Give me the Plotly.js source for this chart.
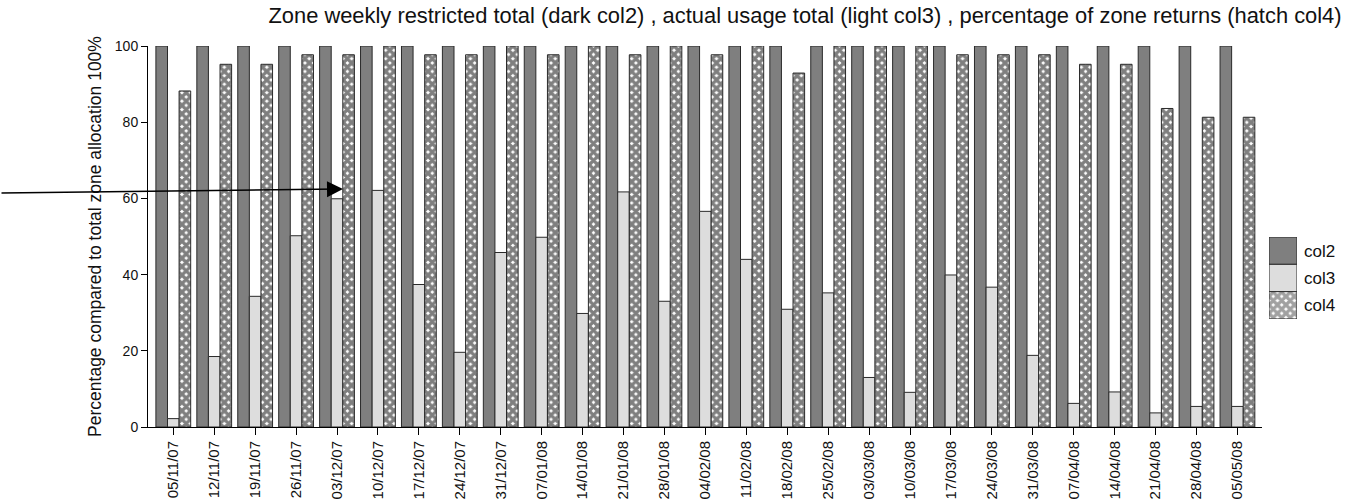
<!DOCTYPE html>
<html>
<head>
<meta charset="utf-8">
<script src="https://cdn.plot.ly/plotly-3.0.1.min.js"></script>
<style>
  html, body { margin: 0; padding: 0; background: #ffffff; }
  #chart { width: 1359px; height: 504px; }
</style>
</head>
<body>
<div id="chart"></div>
<script>
// ---- data ----
const categories = ['05/11/07','12/11/07','19/11/07','26/11/07','03/12/07','10/12/07','17/12/07',
  '24/12/07','31/12/07','07/01/08','14/01/08','21/01/08','28/01/08','04/02/08','11/02/08',
  '18/02/08','25/02/08','03/03/08','10/03/08','17/03/08','24/03/08','31/03/08','07/04/08',
  '14/04/08','21/04/08','28/04/08','05/05/08'];

const col2 = [100,100,100,100,100,100,100,100,100,100,100,100,100,100,
  100,100,100,100,100,100,100,100,100,100,100,100,100];

const col3 = [2.2,18.5,34.3,50.2,59.9,62.1,37.4,19.6,45.8,49.8,29.8,61.7,33.0,56.6,
  44.0,30.9,35.2,13.0,9.1,39.9,36.7,18.8,6.2,9.2,3.7,5.4,5.4];

const col4 = [88.2,95.2,95.2,97.7,97.7,100,97.7,97.7,100,97.7,100,97.7,100,97.7,
  100,92.9,100,100,100,97.7,97.7,97.7,95.2,95.2,83.6,81.3,81.3];

const seriesNames = ['col2', 'col3', 'col4'];
const legendSwatchLength = [1, 1, 1];

const titleText = 'Zone weekly restricted total (dark col2) , actual usage total (light col3) , percentage of zone returns (hatch col4)';
const yTitleText = 'Percentage compared to total zone allocation 100%';

// ---- styles ----
const DARK = '#7f7f7f';
const LIGHT = '#dddddd';
const EDGE = '#2a2a2a';
const FONT = 'Liberation Sans, Arial, sans-serif';
const hatch = { shape: 'x', fgcolor: '#000000', bgcolor: '#ffffff', size: 6, solidity: 0.8, fillmode: 'overlay' };

const traces = [
  { type: 'bar', name: seriesNames[0], x: categories, y: col2,
    marker: { color: DARK, line: { color: EDGE, width: 1 } }, showlegend: false, hoverinfo: 'x+y' },
  { type: 'bar', name: seriesNames[1], x: categories, y: col3,
    marker: { color: LIGHT, line: { color: EDGE, width: 1 } }, showlegend: false, hoverinfo: 'x+y' },
  { type: 'bar', name: seriesNames[2], x: categories, y: col4,
    marker: { color: '#ffffff', pattern: hatch, line: { color: EDGE, width: 1 } }, showlegend: false, hoverinfo: 'x+y' },
  // legend drawn as a small bar chart on its own axes
  { type: 'bar', orientation: 'h', x: legendSwatchLength, y: seriesNames, width: 1,
    xaxis: 'x2', yaxis: 'y2', showlegend: false, hoverinfo: 'skip',
    marker: {
      color: [DARK, LIGHT, '#ffffff'],
      pattern: { shape: ['', '', 'x'], fgcolor: '#000000', bgcolor: '#ffffff', size: 6, solidity: 0.8, fillmode: 'overlay' },
      line: { color: EDGE, width: 1 }
    } }
];

const W = 1359, H = 504;
const L = 148, R = 20, T = 46, B = 77;
const plotW = W - L - R;
const plotH = H - T - B;
const px = v => (v - L) / plotW;           // pixel x -> paper x
const py = v => (H - B - v) / plotH;       // pixel y -> paper y

const layout = {
  width: W, height: H,
  margin: { l: L, r: R, t: T, b: B, pad: 0 },
  paper_bgcolor: '#ffffff', plot_bgcolor: '#ffffff',
  font: { family: FONT, color: '#111111', size: 14 },
  barmode: 'group', bargap: 0.15, bargroupgap: 0,
  showlegend: false,
  title: {
    text: titleText,
    font: { family: FONT, size: 21.9, color: '#111111' },
    xref: 'paper', x: px(805), xanchor: 'center',
    yref: 'container', y: 1 - 15 / H, yanchor: 'middle'
  },
  xaxis: {
    type: 'category',
    domain: [0, px(1262)],
    range: [-0.618, 26.60],
    showline: true, linecolor: '#000000', linewidth: 1,
    ticks: 'outside', ticklen: 7, tickcolor: '#000000', tickwidth: 1,
    tickangle: -90, tickfont: { family: FONT, size: 15, color: '#111111' },
    showgrid: false, zeroline: false, fixedrange: true
  },
  yaxis: {
    range: [0, 100],
    tickvals: [0, 20, 40, 60, 80, 100],
    showline: true, linecolor: '#000000', linewidth: 1,
    ticks: 'outside', ticklen: 6, tickcolor: '#000000', tickwidth: 1,
    tickfont: { family: FONT, size: 14, color: '#111111' },
    showgrid: false, zeroline: false, fixedrange: true,
    title: { text: yTitleText, font: { family: FONT, size: 17.5, color: '#111111' }, standoff: 8 },
    automargin: false
  },
  xaxis2: {
    domain: [px(1269), px(1297)], anchor: 'y2', range: [0, 1],
    visible: false, fixedrange: true
  },
  yaxis2: {
    domain: [py(319), py(237)], anchor: 'x2', side: 'right',
    type: 'category', range: [2.5, -0.5],
    showline: false, ticks: '', showgrid: false, zeroline: false,
    tickfont: { family: FONT, size: 17, color: '#111111' },
    ticklabelstandoff: 6, fixedrange: true
  },
  annotations: [{
    xref: 'paper', yref: 'paper', x: px(343), y: py(189),
    axref: 'pixel', ayref: 'pixel', ax: -345, ay: 4,
    showarrow: true, arrowhead: 2, arrowsize: 2, arrowwidth: 1.6, arrowcolor: '#000000',
    text: ''
  }]
};

Plotly.newPlot('chart', traces, layout, { displayModeBar: false, staticPlot: true });
</script>
</body>
</html>
